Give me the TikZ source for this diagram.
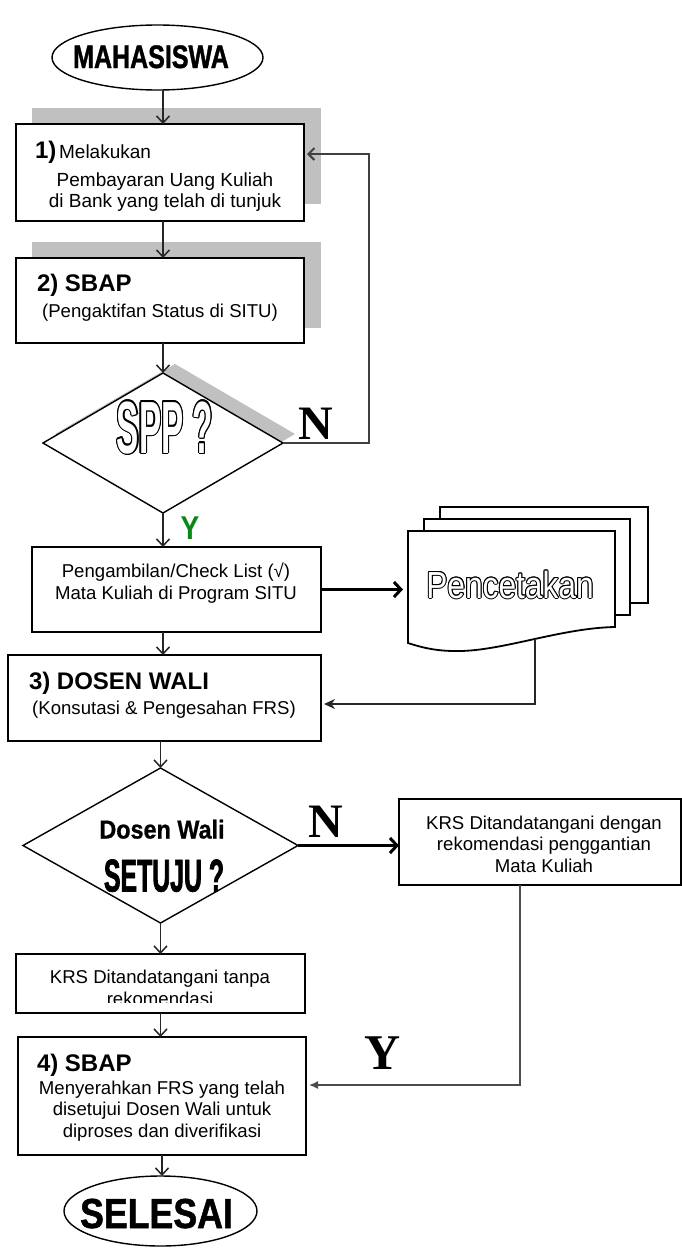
\documentclass[tikz,border=0pt]{standalone}
\usepackage{fontspec}
\setmainfont{Liberation Sans}
\newfontfamily\serifbold{Liberation Serif}
\newfontfamily\fMhs{Liberation Sans}[FakeStretch=0.77,FakeBold=1.2]
\newfontfamily\fSpp{Liberation Sans}[FakeStretch=0.45]
\newfontfamily\fPc{Liberation Sans}[FakeStretch=0.84]
\newfontfamily\fSet{Liberation Sans}[FakeStretch=0.54,FakeBold=1.5]
\newfontfamily\fDw{Liberation Sans}[FakeStretch=0.9,FakeBold=0.8]
\newfontfamily\fSel{Liberation Sans}[FakeStretch=0.85,FakeBold=1.2]
\newfontfamily\fY{Liberation Sans}[FakeStretch=0.85]
\usetikzlibrary{shapes.geometric,arrows.meta,calc}
\definecolor{shadowgray}{RGB}{192,192,192}
\definecolor{ygreen}{RGB}{10,135,20}
\newcommand\hollownode[5]{% name, coord, font, text, offset
  \foreach \hh in {0,30,...,330}{\node[font=#3,anchor=base,text=black] at ($(#2)+(\hh:#5)$) {#4};}
  \node[font=#3,anchor=base,text=white] (#1) at (#2) {#4};}
\begin{document}
\begin{tikzpicture}[x=1pt,y=-1pt,
  every node/.style={inner sep=0pt,outer sep=0pt},
  boxn/.style={draw=black,line width=1.8pt,fill=white,rectangle},
  elln/.style={draw=black,line width=1.4pt,fill=white,ellipse},
  dian/.style={draw=black,line width=1.4pt,fill=white,diamond},
  pg/.style={draw=black,line width=1.8pt,fill=white},
  txt/.style={font=\fontsize{18.6}{21.5}\selectfont,align=center,anchor=base},
  head/.style={font=\fontsize{24}{28}\selectfont\bfseries,anchor=base west},
  lbl/.style={font=\fontsize{48}{50}\selectfont\serifbold\bfseries},
  varr/.style={line width=1.5pt,draw=black!85,-{Straight Barb[length=7pt,width=13pt]}},
  tarr/.style={line width=3pt,draw=black,-{Straight Barb[length=7pt,width=15pt]}},
  larr/.style={line width=2pt,draw=black!75,-{Straight Barb[length=6pt,width=12pt]}},
  sarr/.style={line width=2pt,draw=black!85,-{Stealth[length=11pt,width=10pt]}},
  farr/.style={line width=1.5pt,draw=black!70,-{Latex[length=9pt,width=8pt]}}]
\useasboundingbox (0,0) rectangle (682,1248);
\fill[white] (0,0) rectangle (682,1248);

% start
\node[elln,minimum width=211pt,minimum height=65pt] (mhs) at (157.5,57.5) {};
\node[anchor=base,font=\fMhs\fontsize{32.5}{34}\selectfont\bfseries] (mhst) at (151,68) {MAHASISWA};

% box 1
\fill[shadowgray] (32,108) rectangle (321,204);
\node[boxn,minimum width=288pt,minimum height=97pt] (b1) at (160,172.5) {};
\node[anchor=base west] (b1a) at (35,158) {{\fontsize{24}{28}\selectfont\bfseries 1)} {\fontsize{19}{21}\selectfont Melakukan}};
\node[txt,font=\fontsize{19}{20.5}\selectfont] (b1b) at (165,207) {Pembayaran Uang Kuliah\\di Bank yang telah di tunjuk};

% box 2
\fill[shadowgray] (32,242) rectangle (321,328);
\node[boxn,minimum width=288pt,minimum height=85pt] (b2) at (160,300.5) {};
\node[head] (b2a) at (37,291) {2) SBAP};
\node[txt] (b2b) at (160,317) {(Pengaktifan Status di SITU)};

% decision SPP
\node[diamond,fill=shadowgray,minimum width=240pt,minimum height=140pt] (sppsh) at (175,434) {};
\node[dian,minimum width=240pt,minimum height=140pt] (spp) at (163,443) {};
\hollownode{sppt}{165,453}{\fSpp\fontsize{74}{76}\selectfont\bfseries}{SPP ?}{1.2}
\node[lbl] (n1) at (316,424) {N};
\node[font=\fY\fontsize{33}{34}\selectfont\bfseries,text=ygreen] (y1) at (190,528) {Y};

% Pengambilan
\node[boxn,minimum width=289pt,minimum height=85pt] (bp) at (176.5,589.5) {};
\node[txt] (bpt) at (176,599) {Pengambilan/Check List (√)\\Mata Kuliah di Program SITU};

% Pencetakan (multi document)
\draw[pg] (440,507) rectangle (648,603);
\draw[pg] (424,519) rectangle (630,615);
\draw[pg] (408,531) -- (615,531) -- (615,627) .. controls (560,628) and (500,652) .. (455,651) .. controls (435,651) and (420,647) .. (408,643) -- cycle;
\node[minimum width=207pt,minimum height=112pt] (pc) at (511.5,587) {};
\hollownode{pct}{510,598}{\fPc\fontsize{37.7}{40}\selectfont}{Pencetakan}{1.0}
\coordinate (pcb) at (535,639);

% box 3
\node[boxn,minimum width=313pt,minimum height=86pt] (b3) at (164.5,698) {};
\node[head] (b3a) at (29,689) {3) DOSEN WALI};
\node[txt] (b3b) at (164,714) {(Konsutasi \& Pengesahan FRS)};

% decision Dosen Wali
\node[dian,minimum width=275pt,minimum height=155pt] (d2) at (160.5,845.5) {};
\node[anchor=base,font=\fDw\fontsize{26}{27}\selectfont\bfseries] (d2a) at (162,838.5) {Dosen Wali};
\node[anchor=base,font=\fSet\fontsize{46}{48}\selectfont\bfseries] (d2b) at (164,891.5) {SETUJU ?};
\node[lbl] (n2) at (325.5,822) {N};

% KRS dengan
\node[boxn,minimum width=282pt,minimum height=86pt] (kd) at (540,842) {};
\node[txt] (kdt) at (544,872) {KRS Ditandatangani dengan\\rekomendasi penggantian\\Mata Kuliah};

% KRS tanpa
\node[boxn,minimum width=289pt,minimum height=59pt] (kt) at (160.5,983.5) {};
\begin{scope}
\clip (16,954) rectangle (305,1002);
\node[txt] (ktt) at (160,1005) {KRS Ditandatangani tanpa\\rekomendasi};
\end{scope}

% box 4
\node[boxn,minimum width=288pt,minimum height=118pt] (b4) at (162,1096) {};
\node[head] (b4a) at (37,1071) {4) SBAP};
\node[txt] (b4b) at (162,1137) {Menyerahkan FRS yang telah\\disetujui Dosen Wali untuk\\diproses dan diverifikasi};
\node[lbl,font=\fontsize{50}{52}\selectfont\serifbold\bfseries] (y2) at (382.5,1053) {Y};

% end
\node[elln,minimum width=193pt,minimum height=70pt] (sel) at (160.5,1211) {};
\node[anchor=base,font=\fSel\fontsize{42}{44}\selectfont\bfseries] (selt) at (156.5,1228) {SELESAI};

% connectors
\draw[varr] (mhs.south -| b1.north) ++(3,0) -- ($(b1.north)+(3,0)$);
\draw[varr] ($(b1.south)+(3,0)$) -- ($(b2.north)+(3,0)$);
\draw[varr] ($(b2.south)+(3,0)$) -- (spp.north);
\draw[varr] (spp.south) -- (spp.south |- bp.north);
\coordinate (lp) at (369,154);
\draw[larr,shorten >=3pt] (spp.east) -| (lp) -- (lp -| b1.east);
\draw[tarr,shorten >=5pt] (bp.east) -- (bp.east -| pc.west);
\draw[varr] (spp.south |- bp.south) -- (spp.south |- b3.north);
\coordinate (c3) at (535,704);
\draw[sarr,shorten >=3pt] (pcb) -- (c3) -- (c3 -| b3.east);
\draw[varr] (d2.north |- b3.south) -- (d2.north);
\draw[tarr] (d2.east) -- (d2.east -| kd.west);
\draw[varr] (d2.south) -- (d2.south |- kt.north);
\draw[varr] (kt.south) -- (kt.south |- b4.north);
\coordinate (c4) at (520,1085);
\draw[farr,shorten >=3pt] (kd.south -| c4) -- (c4) -- (c4 -| b4.east);
\draw[varr] (b4.south) -- (b4.south |- sel.north);
\end{tikzpicture}
\end{document}
